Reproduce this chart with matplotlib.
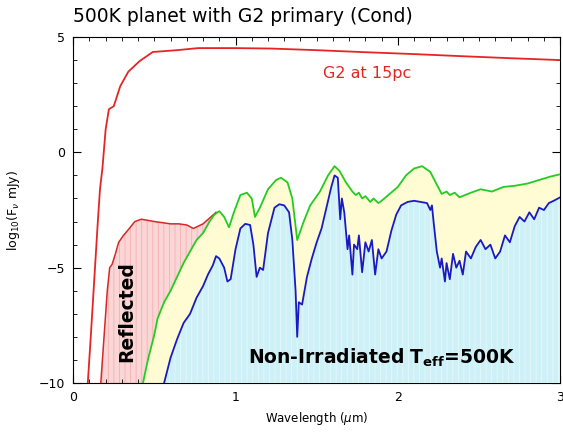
import numpy as np
import matplotlib
matplotlib.use('Agg')
import matplotlib.pyplot as plt

# Spectrum of the G2 primary seen from 15 pc
star_wl = [0.09, 0.11, 0.13, 0.15, 0.165, 0.18, 0.20, 0.22, 0.25, 0.29, 0.34, 0.41, 0.49,
           0.64, 0.77, 1.0, 1.22, 1.5, 1.77, 2.1, 2.39, 2.7, 3.0]
star_flux = [-10, -7.8, -5.5, -3.2, -1.6, -0.7, 1.0, 1.87, 2.0, 2.87, 3.5, 3.96, 4.35,
             4.43, 4.52, 4.52, 4.5, 4.43, 4.35, 4.26, 4.17, 4.08, 4.0]

# Reflected light component
refl_wl = [0.17, 0.19, 0.21, 0.225, 0.24, 0.26, 0.28, 0.31, 0.34, 0.38, 0.42, 0.46, 0.50,
           0.55, 0.60, 0.65, 0.70, 0.74, 0.77, 0.80, 0.84, 0.88]
refl_flux = [-10, -8.0, -6.0, -5.0, -4.85, -4.4, -3.9, -3.6, -3.35, -3.0, -2.9, -2.95, -3.0,
             -3.05, -3.1, -3.1, -3.15, -3.3, -3.2, -3.1, -2.85, -2.6]

# Irradiated planet (thermal + reflected)
irr_wl = [0.43, 0.46, 0.50, 0.52, 0.56, 0.60, 0.64, 0.68, 0.72, 0.76, 0.80, 0.84, 0.87,
          0.90, 0.93, 0.96, 0.99, 1.03, 1.07, 1.10, 1.12, 1.15, 1.20, 1.25, 1.28, 1.32,
          1.35, 1.38, 1.42, 1.46, 1.52, 1.57, 1.61, 1.64, 1.68, 1.72, 1.74, 1.76, 1.78,
          1.80, 1.83, 1.85, 1.88, 1.90, 1.95, 2.00, 2.05, 2.10, 2.15, 2.20, 2.24, 2.27,
          2.30, 2.32, 2.35, 2.38, 2.45, 2.51, 2.58, 2.65, 2.72, 2.80, 2.87, 2.94, 3.0]
irr_flux = [-10, -9.0, -7.9, -7.2, -6.5, -6.0, -5.4, -4.8, -4.3, -3.8, -3.5, -3.0, -2.7,
            -2.55, -2.8, -3.25, -2.6, -1.85, -1.75, -2.0, -2.8, -2.4, -1.6, -1.2, -1.1, -1.3,
            -2.0, -3.8, -3.0, -2.3, -1.7, -1.0, -0.6, -0.8, -1.3, -1.7, -1.85, -1.75, -2.0,
            -1.9, -2.15, -2.0, -2.2, -2.1, -1.8, -1.5, -1.0, -0.7, -0.6, -0.85, -1.4, -1.8,
            -1.7, -1.85, -1.75, -1.95, -1.75, -1.6, -1.7, -1.5, -1.45, -1.35, -1.2, -1.05, -0.95]

# Non-irradiated 500 K planet
cool_wl = [0.56, 0.60, 0.64, 0.68, 0.72, 0.76, 0.80, 0.83, 0.86, 0.88, 0.90, 0.93, 0.95,
           0.97, 1.00, 1.03, 1.06, 1.09, 1.11, 1.13, 1.15, 1.17, 1.20, 1.24, 1.27, 1.30,
           1.33, 1.35, 1.37, 1.38, 1.39, 1.41, 1.44, 1.47, 1.50, 1.53, 1.56, 1.59, 1.61,
           1.63, 1.645, 1.655, 1.67, 1.69, 1.70, 1.72, 1.73, 1.75, 1.76, 1.78, 1.80, 1.82,
           1.84, 1.86, 1.88, 1.90, 1.93, 1.96, 1.99, 2.02, 2.06, 2.10, 2.14, 2.18, 2.20,
           2.21, 2.22, 2.24, 2.26, 2.27, 2.29, 2.30, 2.32, 2.34, 2.36, 2.38, 2.40, 2.42,
           2.45, 2.48, 2.51, 2.54, 2.57, 2.60, 2.63, 2.66, 2.69, 2.72, 2.75, 2.78, 2.81,
           2.84, 2.87, 2.90, 2.93, 2.96, 3.0]
cool_flux = [-10, -8.9, -8.1, -7.4, -7.0, -6.3, -5.8, -5.3, -4.9, -4.5, -4.6, -5.0, -5.6,
             -5.5, -4.2, -3.3, -3.1, -3.15, -4.0, -5.4, -5.0, -5.1, -3.5, -2.4, -2.25, -2.3,
             -2.6, -3.8, -6.0, -8.0, -6.5, -6.6, -5.4, -4.6, -3.9, -3.3, -2.4, -1.5, -1.0,
             -1.1, -2.9, -2.0, -2.6, -4.2, -3.6, -5.3, -4.0, -4.2, -3.6, -5.2, -3.9, -4.3,
             -3.8, -5.3, -4.2, -4.6, -4.3, -3.4, -2.7, -2.3, -2.15, -2.1, -2.15, -2.2, -2.5,
             -2.3, -3.0, -4.3, -5.0, -4.6, -5.6, -4.8, -5.5, -4.4, -5.0, -4.7, -5.3, -4.3,
             -4.6, -4.1, -3.8, -4.2, -4.0, -4.6, -4.3, -3.6, -3.9, -3.2, -2.8, -3.0, -2.6,
             -2.9, -2.4, -2.5, -2.2, -2.1, -1.95]

plt.rcParams['hatch.linewidth'] = 0.6

fig = plt.figure(figsize=(5.63, 4.33), dpi=100)
ax = fig.add_axes([0.13, 0.1155, 0.865, 0.799])

ymin = -10
# shaded areas under each spectrum
ax.fill_between(refl_wl, ymin, refl_flux, facecolor='#fbd6d6', edgecolor='#f4b0b0',
                hatch='|||', linewidth=0, zorder=1)
ax.fill_between(irr_wl, ymin, irr_flux, facecolor='#fffbd2', linewidth=0, zorder=2)
ax.fill_between(cool_wl, ymin, cool_flux, facecolor='#cdf1f7', edgecolor='#e6f8fb',
                hatch='|||', linewidth=0, zorder=3)

ax.plot(refl_wl, refl_flux, color='#d42a2a', lw=1.1, zorder=4)
ax.plot(irr_wl, irr_flux, color='#22cc22', lw=1.3, zorder=5)
ax.plot(cool_wl, cool_flux, color='#1a1ac4', lw=1.3, zorder=6)
ax.plot(star_wl, star_flux, color='#e52525', lw=1.3, zorder=7)

ax.set_xlim(0, 3)
ax.set_ylim(-10, 5)
ax.set_xticks([0, 1, 2, 3])
ax.set_yticks([-10, -5, 0, 5])
ax.set_xticks(np.arange(0, 3.01, 0.1), minor=True)
ax.set_yticks(np.arange(-10, 5.01, 1), minor=True)
ax.tick_params(which='both', direction='in', top=True, right=True, labelsize=9, pad=6)
ax.tick_params(which='major', length=6)
ax.tick_params(which='minor', length=3)

ax.set_xlabel(r'Wavelength ($\mu$m)', fontsize=8.5)
ax.set_ylabel(r'log$_{10}$(F$_\nu$ mJy)', fontsize=9, labelpad=12)

ax.text(1.81, 3.43, 'G2 at 15pc', color='#e52525', fontsize=11.5, ha='center',
        va='center', zorder=8)
ax.text(0.33, -6.9, 'Reflected', rotation=90, fontsize=13.5, fontweight='bold',
        ha='center', va='center', zorder=8)
ax.text(1.90, -8.9, r'Non-Irradiated T$_{\mathbf{eff}}$=500K', fontsize=13.5,
        fontweight='bold', ha='center', va='center', zorder=8)

fig.text(73 / 563, 1 - 16 / 433, '500K planet with G2 primary (Cond)', fontsize=13.5,
         ha='left', va='center')

fig.savefig('out.png', dpi=100)
